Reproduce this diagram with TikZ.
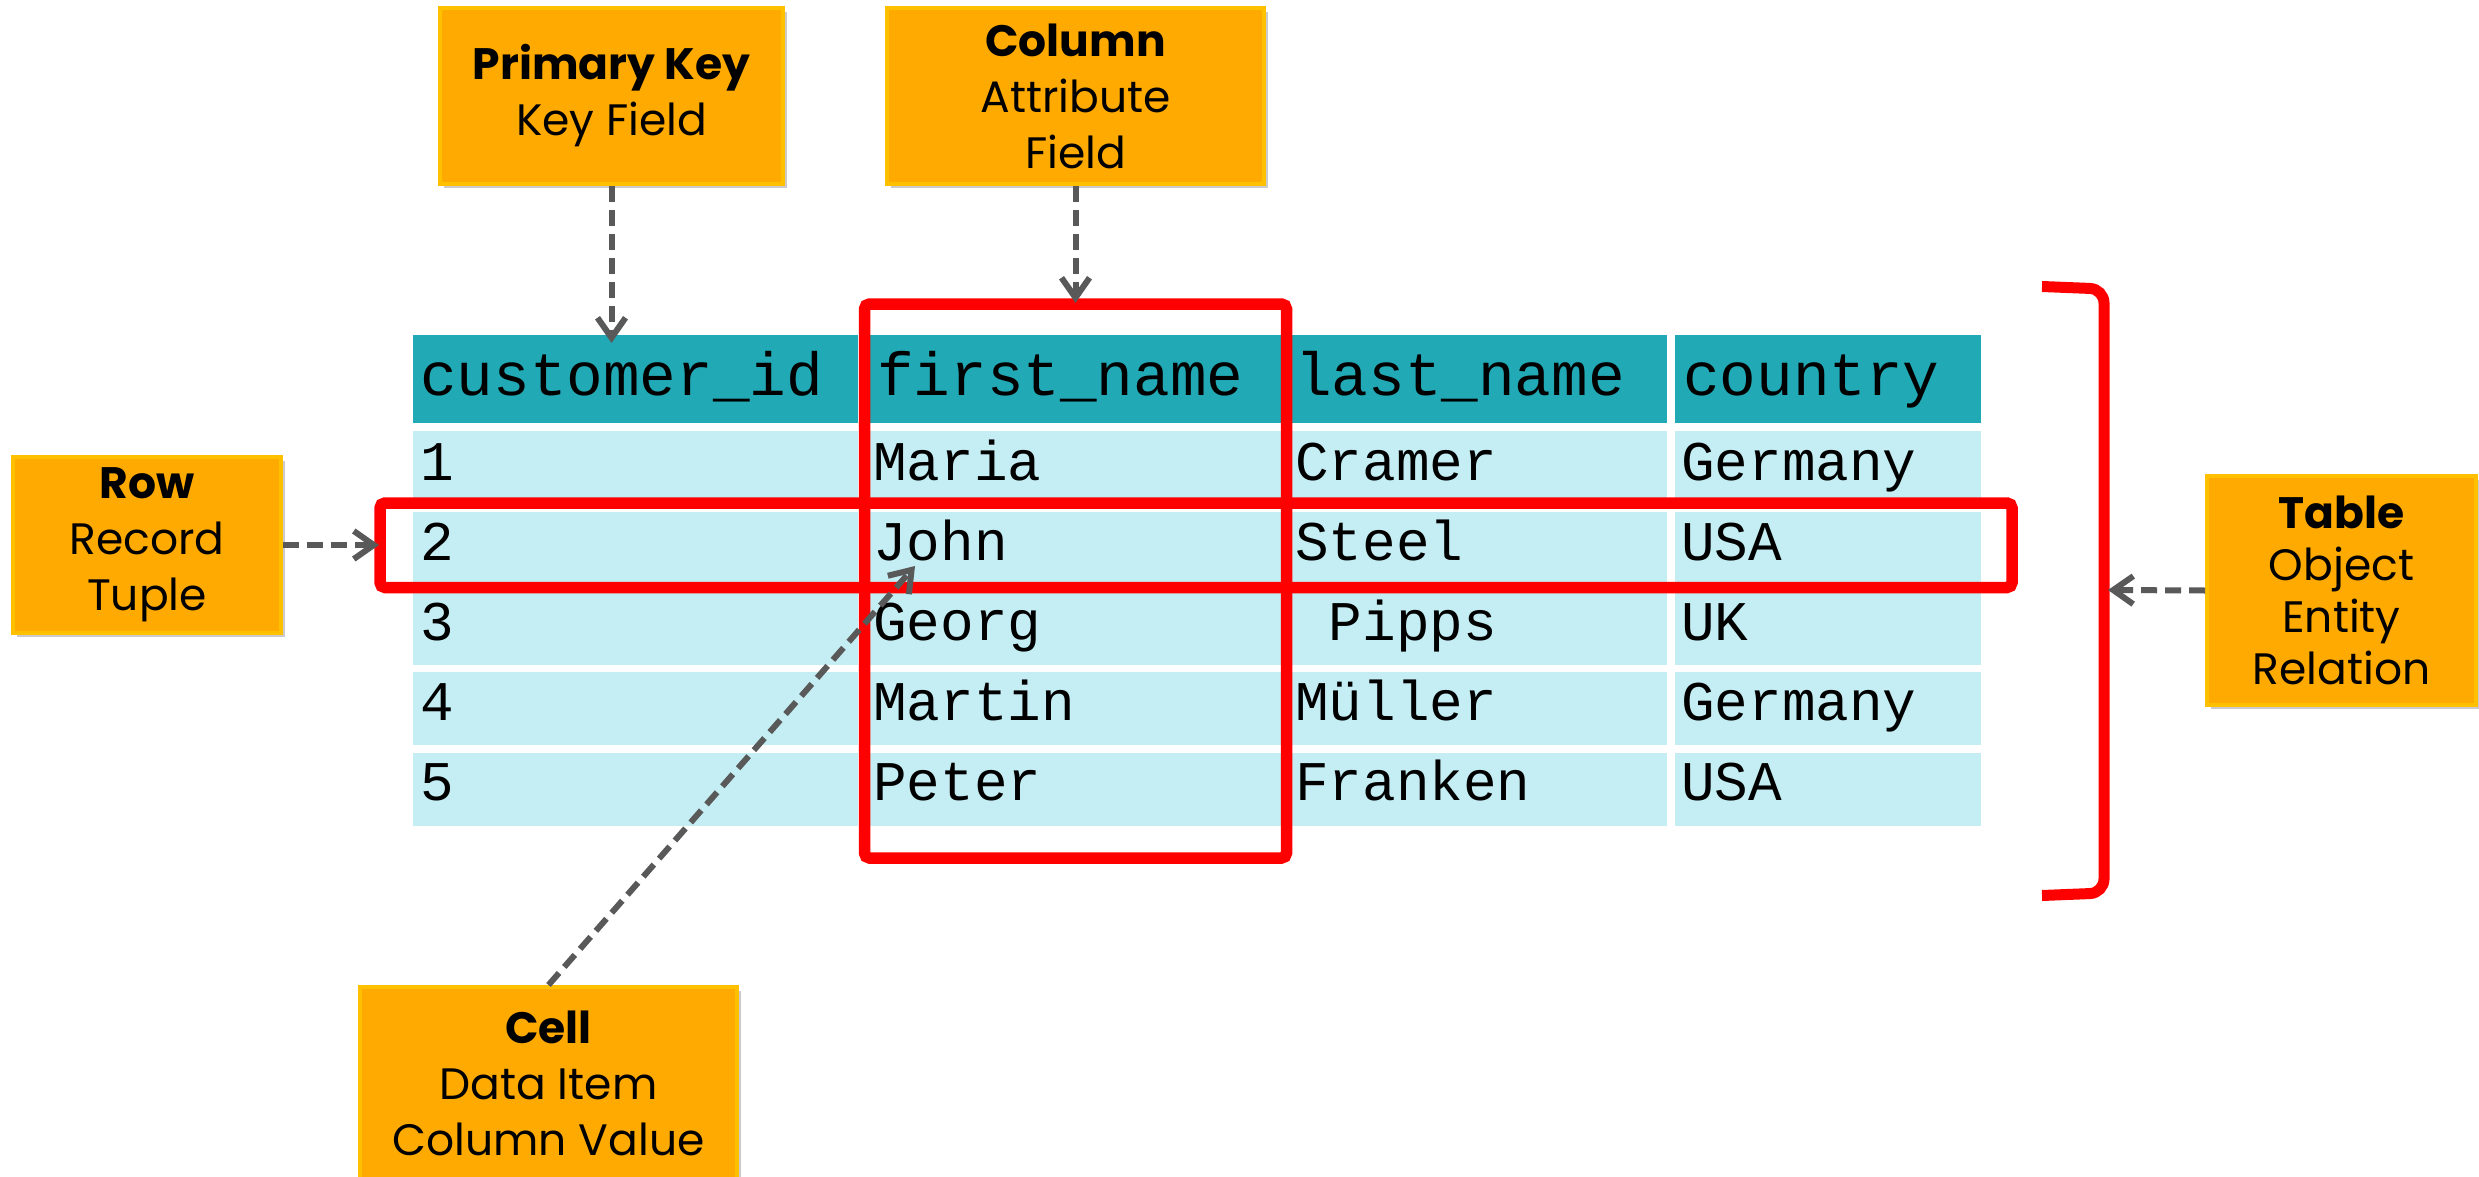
\documentclass[tikz,border=0pt]{standalone}
\usepackage{fontspec}
\setmonofont{Liberation Mono}
\newfontfamily\labelfont{Poppins}
\usetikzlibrary{arrows.meta,shadows}
\definecolor{hdrcol}{HTML}{21A9B5}
\definecolor{rowcol}{HTML}{C4EEF3}
\definecolor{lblfill}{HTML}{FFAA00}
\definecolor{lblborder}{HTML}{FFC000}
\definecolor{hlred}{HTML}{FF0000}
\definecolor{conncol}{HTML}{595959}
\tikzset{
  hcell/.style={fill=hdrcol, inner sep=0, anchor=north west, minimum height=88pt},
  rcell/.style={fill=rowcol, inner sep=0, anchor=north west, minimum height=73pt},
  htext/.style={anchor=base west, inner sep=0, font=\ttfamily\fontsize{61}{61}\selectfont},
  rtext/.style={anchor=base west, inner sep=0, font=\ttfamily\fontsize{56}{56}\selectfont},
  lbl/.style={draw=lblborder, line width=4pt, fill=lblfill, inner sep=0, align=center,
    drop shadow={shadow xshift=4pt, shadow yshift=-4pt, opacity=0.35, fill=black!60},
    font=\labelfont\fontsize{44}{56}\selectfont},
  redrect/.style={draw=hlred, line width=11.5pt, rounded corners=5pt, inner sep=0},
  conn/.style={draw=conncol, line width=6pt, dash pattern=on 16pt off 8pt,
    -{Straight Barb[length=20pt,width=28pt]}},
}
\begin{document}
\begin{tikzpicture}[x=1pt,y=-1pt]
\useasboundingbox (0,0) rectangle (2479,1177);

% header cells
\node[hcell, minimum width=445pt] (h1) at (413,335) {};
\node[hcell, minimum width=416pt] (h2) at (867,335) {};
\node[hcell, minimum width=376pt] (h3) at (1291,335) {};
\node[hcell, minimum width=306pt] (h4) at (1675,335) {};
\node[htext] (ht1) at (420,395) {customer\_id};
\node[htext] (ht2) at (877,395) {first\_name};
\node[htext] (ht3) at (1295,395) {last\_name};
\node[htext] (ht4) at (1683,395) {country};

% body rows
\foreach \r/\top/\base/\ca/\cb/\cc/\cd in {
  1/431/480/1/Maria/Cramer/Germany,
  2/511.4/560/2/John/Steel/USA,
  3/591.8/640/3/Georg/\hphantom{P}Pipps/UK,
  4/672.2/720/4/Martin/Müller/Germany,
  5/752.6/800/5/Peter/Franken/USA}{
  \node[rcell, minimum width=445pt] (c\r a) at (413,\top) {};
  \node[rcell, minimum width=416pt] (c\r b) at (867,\top) {};
  \node[rcell, minimum width=376pt] (c\r c) at (1291,\top) {};
  \node[rcell, minimum width=306pt] (c\r d) at (1675,\top) {};
  \node[rtext] (t\r a) at (420,\base) {\ca};
  \node[rtext] (t\r b) at (873,\base) {\cb};
  \node[rtext] (t\r c) at (1295,\base) {\cc};
  \node[rtext] (t\r d) at (1681,\base) {\cd};
}

% red highlights
\node[redrect, minimum width=422pt, minimum height=554pt] (colbox) at (1075.5,581) {};
\node[redrect, minimum width=1632pt, minimum height=84.5pt] (rowbox) at (1196,545.25) {};
\draw[hlred, line width=11pt, rounded corners=14pt, line cap=butt]
  (2042,286.5) -- (2104,289) -- (2104,893) -- (2042,895.5);

% labels
\node[lbl, minimum width=343pt, minimum height=176pt] (pk) at (611.5,96)
  {\textbf{Primary Key}\\Key Field};
\node[lbl, minimum width=377pt, minimum height=176pt] (col) at (1075.5,96)
  {\textbf{Column}\\Attribute\\Field};
\node[lbl, minimum width=268pt, minimum height=176pt] (row) at (147,545)
  {\textbf{Row}\\Record\\Tuple};
\node[lbl, minimum width=269pt, minimum height=229pt, font=\labelfont\fontsize{44}{52}\selectfont] (tbl) at (2341.5,590.5)
  {\textbf{Table}\\Object\\Entity\\Relation};
\node[lbl, minimum width=377pt, minimum height=193pt] (cell) at (548.5,1083.5)
  {\textbf{Cell}\\Data Item\\Column Value};

% connector targets
\coordinate (pkT) at (611.5,343);
\coordinate (colT) at (1075.5,303);
\coordinate (rowT) at (379,545);
\coordinate (tblT) at (2108,590);
\coordinate (cellT) at (915,566);

\draw[conn] (pk.south) -- (pkT);
\draw[conn] (col.south) -- (colT);
\draw[conn] (row.east) -- (rowT);
\draw[conn] (tbl.west) -- (tblT);
\draw[conn] (cell.north) -- (cellT);
\end{tikzpicture}
\end{document}
